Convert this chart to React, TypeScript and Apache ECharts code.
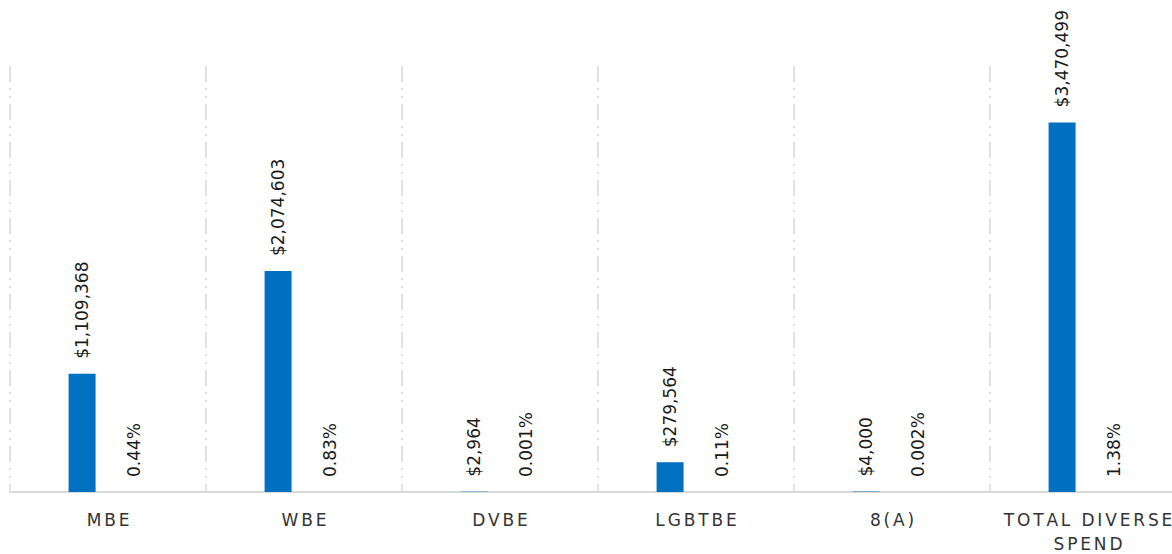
import React, { useEffect, useRef } from "react";
import * as echarts from "echarts";

const categories = ["MBE", "WBE", "DVBE", "LGBTBE", "8(A)", "TOTAL DIVERSE\nSPEND"];
const spendValues = [1109368, 2074603, 2964, 279564, 4000, 3470499];
const percentValues = [0.44, 0.83, 0.001, 0.11, 0.002, 1.38];
const percentLabels = ["0.44%", "0.83%", "0.001%", "0.11%", "0.002%", "1.38%"];

const SP = "\u2006";
const spaced = (s: string) =>
  s
    .split("\n")
    .map((line) => line.split("").join(SP))
    .join("\n");

export default function App() {
  const ref = useRef<HTMLDivElement>(null);

  useEffect(() => {
    document.body.style.margin = "0";
    if (!ref.current) return;
    const chart = echarts.init(ref.current, undefined, { renderer: "svg" });
    const labelFont = "DejaVu Sans";
    chart.setOption({
      animation: false,
      backgroundColor: "#ffffff",
      grid: {
        left: 10,
        top: 66,
        width: 1176,
        bottom: 62,
        containLabel: false,
        outerBoundsMode: "none",
      },
      xAxis: {
        type: "category",
        data: categories.map(spaced),
        axisLine: { show: true, lineStyle: { color: "#d9d9d9", width: 2 } },
        axisTick: { show: false },
        splitLine: {
          show: true,
          lineStyle: { color: "#d9d9d9", width: 1.5, type: [16, 6, 2, 6, 2, 6] },
        },
        axisLabel: {
          interval: 0,
          margin: 16,
          color: "#333333",
          fontFamily: labelFont,
          fontSize: 17,
          lineHeight: 24,
          align: "center",
        },
      },
      yAxis: {
        type: "value",
        min: 0,
        max: 4000000,
        show: false,
        splitLine: { show: false },
      },
      series: [
        {
          name: "Spend",
          type: "bar",
          data: spendValues,
          barWidth: 27,
          barGap: "92%",
          itemStyle: { color: "#0070C0" },
          label: {
            show: true,
            position: "top",
            distance: 15,
            rotate: 90,
            align: "left",
            verticalAlign: "middle",
            color: "#1a1a1a",
            fontFamily: labelFont,
            fontSize: 17,
            formatter: (p: any) => "$" + Number(p.value).toLocaleString("en-US"),
          },
        },
        {
          name: "Percent",
          type: "bar",
          data: percentValues,
          barWidth: 27,
          itemStyle: { color: "rgba(0,0,0,0)" },
          label: {
            show: true,
            position: "top",
            distance: 15,
            rotate: 90,
            align: "left",
            verticalAlign: "middle",
            color: "#1a1a1a",
            fontFamily: labelFont,
            fontSize: 17,
            formatter: (p: any) => percentLabels[p.dataIndex],
          },
        },
      ],
    });
    return () => chart.dispose();
  }, []);

  return <div ref={ref} style={{ width: 1172, height: 554 }} />;
}
